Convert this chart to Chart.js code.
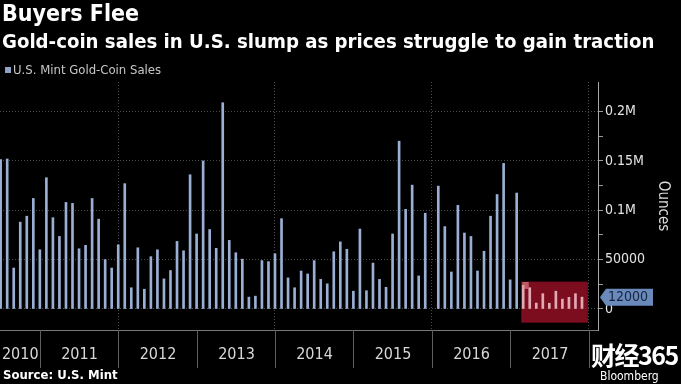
<!DOCTYPE html>
<html>
<head>
<meta charset="utf-8">
<script src="https://cdn.jsdelivr.net/npm/chart.js@4.4.1/dist/chart.umd.min.js"></script>
<style>
  html, body { margin: 0; padding: 0; background: #000; }
  #wrap { position: relative; width: 681px; height: 384px; overflow: hidden; background: #000;
          font-family: "DejaVu Sans Condensed", "Liberation Sans Narrow", "DejaVu Sans", sans-serif; }
  #chart { position: absolute; left: 0; top: 0; }
  .title { position: absolute; left: 2px; top: 0px; color: #fff; font-weight: bold; font-size: 23px; white-space: nowrap; }
  .sub { position: absolute; left: 2px; top: 29px; color: #fff; font-weight: bold; font-size: 20.2px; white-space: nowrap; }
  .legend { position: absolute; left: 5px; top: 62px; color: #c8c8c8; font-size: 13px; white-space: nowrap; }
  .legend i { display: inline-block; width: 6px; height: 6px; background: #8ea3c6; margin-right: 2px; vertical-align: 1px; }
  .source { position: absolute; left: 3px; top: 367px; color: #fff; font-weight: bold; font-size: 13px; white-space: nowrap; }
  .wm { position: absolute; left: 591px; top: 336px; color: #fff; font-weight: bold; font-size: 25px;
        font-family: "Noto Sans CJK SC", sans-serif; white-space: nowrap; letter-spacing: -1.5px; }
  .wm2 { position: absolute; left: 600px; top: 369px; color: #fff; font-size: 12px; white-space: nowrap; }
</style>
</head>
<body>
<div id="wrap">
  <canvas id="chart" width="681" height="384"></canvas>
  <div class="title">Buyers Flee</div>
  <div class="sub">Gold-coin sales in U.S. slump as prices struggle to gain traction</div>
  <div class="legend"><i></i>U.S. Mint Gold-Coin Sales</div>
  <div class="source">Source: U.S. Mint</div>
  <div class="wm">财经365</div>
  <div class="wm2">Bloomberg</div>
</div>
<script>
// monthly sales, plotted at month end
const months = [
  'Jun 2010','Jul 2010','Aug 2010','Sep 2010','Oct 2010','Nov 2010','Dec 2010',
  'Jan 2011','Feb 2011','Mar 2011','Apr 2011','May 2011','Jun 2011','Jul 2011','Aug 2011','Sep 2011','Oct 2011','Nov 2011','Dec 2011',
  'Jan 2012','Feb 2012','Mar 2012','Apr 2012','May 2012','Jun 2012','Jul 2012','Aug 2012','Sep 2012','Oct 2012','Nov 2012','Dec 2012',
  'Jan 2013','Feb 2013','Mar 2013','Apr 2013','May 2013','Jun 2013','Jul 2013','Aug 2013','Sep 2013','Oct 2013','Nov 2013','Dec 2013',
  'Jan 2014','Feb 2014','Mar 2014','Apr 2014','May 2014','Jun 2014','Jul 2014','Aug 2014','Sep 2014','Oct 2014','Nov 2014','Dec 2014',
  'Jan 2015','Feb 2015','Mar 2015','Apr 2015','May 2015','Jun 2015','Jul 2015','Aug 2015','Sep 2015','Oct 2015','Nov 2015','Dec 2015',
  'Jan 2016','Feb 2016','Mar 2016','Apr 2016','May 2016','Jun 2016','Jul 2016','Aug 2016','Sep 2016','Oct 2016','Nov 2016','Dec 2016',
  'Jan 2017','Feb 2017','Mar 2017','Apr 2017','May 2017','Jun 2017','Jul 2017','Aug 2017','Sep 2017','Oct 2017','Nov 2017'
];
const sales = [
  151500, 152000, 41500, 88000, 94000, 112000, 60000,
  133000, 92500, 73500, 108000, 107000, 61000, 64500, 112000, 91000, 50000, 41500, 65000,
  127000, 21500, 62000, 20000, 53000, 60000, 30500, 39000, 68500, 59000, 136000, 76000,
  150000, 80500, 61500, 209000, 69500, 57000, 50500, 12000, 13000, 49000, 48000, 56000,
  91500, 31500, 21500, 38500, 35500, 49000, 30000, 25500, 58000, 68000, 60500, 18000,
  81000, 18500, 46500, 30000, 22000, 76000, 170000, 101000, 125500, 33500, 97000, null,
  124500, 83500, 37500, 105000, 77000, 73500, 38500, 58500, 94000, 116000, 147500, 29500,
  117500, 24000, 21500, 6000, 15500, 5800, 18000, 10000, 11800, 15500, 12000
];
const years = ['2010','2011','2012','2013','2014','2015','2016','2017'];
// index of the December bar that closes each year (year boundary)
const yearEnds = [6, 18, 30, 42, 54, 66, 78, 90];
const gridYearEnds = [18, 42, 66, 90];
const yTicks = [0, 25000, 50000, 75000, 100000, 125000, 150000, 175000, 200000];
const highlightFrom = 79.7, highlightTo = 89.9, highlightHi = 27700, highlightLo = -13900;
const capFrom = 79.85, capTo = 80.85, capHi = 27400, capLo = 20300;
const highlightStart = 80;

const FONT = '"DejaVu Sans Condensed", "Liberation Sans Narrow", "DejaVu Sans", sans-serif';
Chart.defaults.font.family = FONT;

const fmtY = v => {
  if (v === 0) return '0';
  if (v % 50000 !== 0) return '';
  if (v < 100000) return String(v);
  return (v / 1000000) + 'M';
};

const decor = {
  id: 'decor',
  beforeDatasetsDraw(chart) {
    const { ctx, scales: { x, y } } = chart;
    const x0 = x.getPixelForValue(highlightFrom), x1 = x.getPixelForValue(highlightTo);
    const y0 = y.getPixelForValue(highlightHi), y1 = y.getPixelForValue(highlightLo);
    ctx.save();
    ctx.fillStyle = 'rgba(150,16,36,0.82)';
    ctx.fillRect(x0, y0, x1 - x0, y1 - y0);
    ctx.restore();
  },
  afterDatasetsDraw(chart) {
    const { ctx, scales: { x, y } } = chart;
    const x0 = x.getPixelForValue(capFrom), x1 = x.getPixelForValue(capTo);
    const y0 = y.getPixelForValue(capHi), y1 = y.getPixelForValue(capLo);
    ctx.save();
    ctx.fillStyle = 'rgba(235,140,150,0.6)';
    ctx.fillRect(x0, y0, x1 - x0, y1 - y0);
    ctx.restore();
  },
  afterDraw(chart) {
    const { ctx, chartArea: ca, scales: { x, y } } = chart;
    ctx.save();
    // bottom axis line
    ctx.strokeStyle = '#7a7a7a';
    ctx.lineWidth = 1;
    ctx.beginPath();
    ctx.moveTo(ca.left, Math.round(ca.bottom) + 0.5);
    ctx.lineTo(ca.right, Math.round(ca.bottom) + 0.5);
    ctx.stroke();
    // year separators and labels
    ctx.strokeStyle = '#5e5e5e';
    ctx.fillStyle = '#d8d8d8';
    ctx.font = '16px ' + FONT;
    ctx.textAlign = 'center';
    ctx.textBaseline = 'middle';
    let prev = ca.left;
    yearEnds.forEach((idx, i) => {
      const px = Math.round(x.getPixelForValue(idx)) + 0.5;
      ctx.beginPath();
      ctx.moveTo(px, ca.bottom);
      ctx.lineTo(px, ca.bottom + 38);
      ctx.stroke();
      ctx.fillText(years[i], (prev + px) / 2, ca.bottom + 25);
      prev = px;
    });
    // last value callout
    const last = sales[sales.length - 1];
    const cy = y.getPixelForValue(last);
    const ax = ca.right + 2;
    ctx.fillStyle = '#6a8abb';
    ctx.beginPath();
    ctx.moveTo(ax, cy);
    ctx.lineTo(ax + 6, cy - 8.5);
    ctx.lineTo(ax + 53, cy - 8.5);
    ctx.lineTo(ax + 53, cy + 8.5);
    ctx.lineTo(ax + 6, cy + 8.5);
    ctx.closePath();
    ctx.fill();
    ctx.fillStyle = '#15243c';
    ctx.font = '14px ' + FONT;
    ctx.textAlign = 'left';
    ctx.fillText(String(last), ax + 8, cy + 0.5);
    ctx.restore();
  }
};

new Chart(document.getElementById('chart'), {
  type: 'bar',
  data: {
    labels: months,
    datasets: [{
      label: 'U.S. Mint Gold-Coin Sales',
      data: sales.map((v, i) => ({ x: i, y: v })),
      backgroundColor: sales.map((v, i) => i >= highlightStart ? '#e2a9b4' : '#9aafd3'),
      barThickness: 2,
      grouped: false
    }]
  },
  options: {
    responsive: false,
    animation: false,
    layout: { padding: { top: 82, bottom: 54, left: 0, right: 0 } },
    plugins: { legend: { display: false }, title: { display: false }, tooltip: { enabled: false } },
    scales: {
      x: {
        type: 'linear',
        offset: false,
        min: -0.1,
        max: 91.45,
        afterBuildTicks: s => { s.ticks = gridYearEnds.map(v => ({ value: v })); },
        ticks: { display: false },
        grid: { color: '#4a4a4a', drawTicks: false, lineWidth: 1, offset: false },
        border: { display: false, dash: [1, 2] }
      },
      y: {
        position: 'right',
        min: -21300,
        max: 230000,
        afterBuildTicks: s => { s.ticks = yTicks.map(v => ({ value: v })); },
        afterFit: s => { s.width = 83; },
        ticks: { color: '#e4e4e4', font: { size: 14 }, padding: 2, callback: v => fmtY(v), autoSkip: false },
        grid: {
          color: c => (c.tick && c.tick.value % 50000 === 0) ? '#4a4a4a' : 'rgba(0,0,0,0)',
          tickColor: '#9a9a9a',
          tickLength: 5,
          lineWidth: 1
        },
        border: { display: true, color: '#a8a8a8', width: 1, dash: [1, 2] },
        title: { display: true, text: 'Ounces', color: '#dcdcdc', font: { size: 15 }, padding: { top: 9, bottom: 0 } }
      }
    }
  },
  plugins: [decor]
});
</script>
</body>
</html>
